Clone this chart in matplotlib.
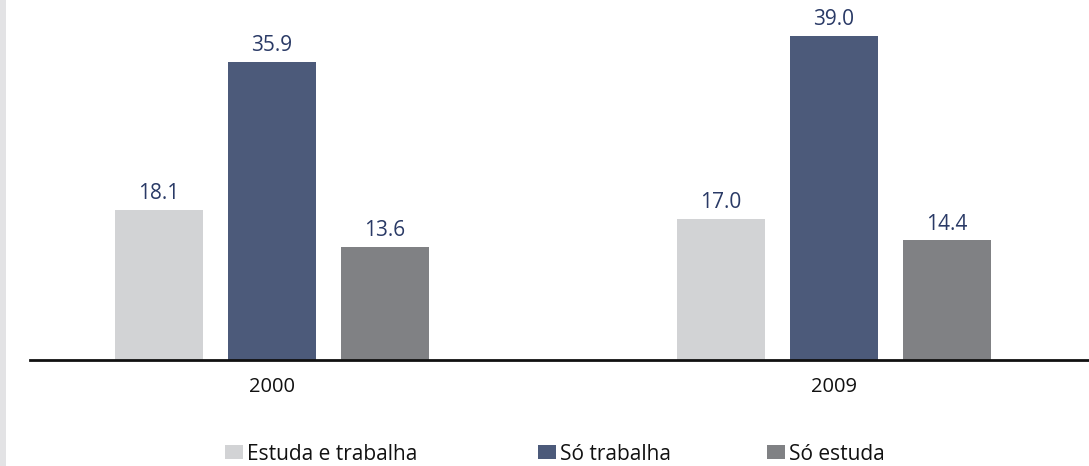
import matplotlib
matplotlib.use("Agg")
import matplotlib.pyplot as plt
from matplotlib.patches import Rectangle, Patch
import numpy as np

plt.rcParams['font.family'] = ['Open Sans', 'DejaVu Sans']

years = ["2000", "2009"]
series_names = ["Estuda e trabalha", "Só trabalha", "Só estuda"]
estuda_e_trabalha = [18.1, 17.0]
so_trabalha = [35.9, 39.0]
so_estuda = [13.6, 14.4]
series = [estuda_e_trabalha, so_trabalha, so_estuda]
colors = ["#d2d3d5", "#4c5a7a", "#808184"]
label_color = "#2a3a66"

W, H = 1089, 466
fig = plt.figure(figsize=(W / 100, H / 100), dpi=100)
fig.patches.append(Rectangle((0, 0), 6 / W, 1, transform=fig.transFigure,
                             facecolor="#e3e3e5", edgecolor="none", zorder=0))

ax = fig.add_axes([30 / W, 106 / H, 1 - 30 / W, 1 - 106 / H])
x = np.arange(len(years), dtype=float)
centers = [272, 834]
scale = centers[1] - centers[0]
width = 88 / scale
offset = 113 / scale

for i, (vals, c) in enumerate(zip(series, colors)):
    bars = ax.bar(x + (i - 1) * offset, vals, width=width, color=c, zorder=2,
                  label=series_names[i])
    ax.bar_label(bars, labels=[f"{v:.1f}" for v in vals], padding=4,
                 color=label_color, fontsize=15)

ax.set_xlim(-(centers[0] - 30) / scale, 1 + (W - centers[1]) / scale)
ax.set_ylim(0, 359.5 / 8.3)
ax.set_xticks(x)
ax.set_xticklabels(years, fontsize=14.5, color="#111111")
ax.tick_params(axis='x', length=0, pad=12)
ax.set_yticks([])
for s in ["top", "right", "left"]:
    ax.spines[s].set_visible(False)
ax.spines["bottom"].set_linewidth(2)
ax.spines["bottom"].set_color("#111111")
ax.spines["bottom"].set_zorder(3)
ax.patch.set_alpha(0)

legend_x = [225, 538, 767]
for name, c, lx in zip(series_names, colors, legend_x):
    fig.legend([Patch(facecolor=c, edgecolor="none")], [name],
               loc="center left", bbox_to_anchor=(lx / W, 12 / H),
               frameon=False, fontsize=15, handlelength=0.87,
               handleheight=0.63, handletextpad=0.2, borderpad=0,
               borderaxespad=0, labelcolor="#111111")

fig.savefig("out.png", dpi=100)
